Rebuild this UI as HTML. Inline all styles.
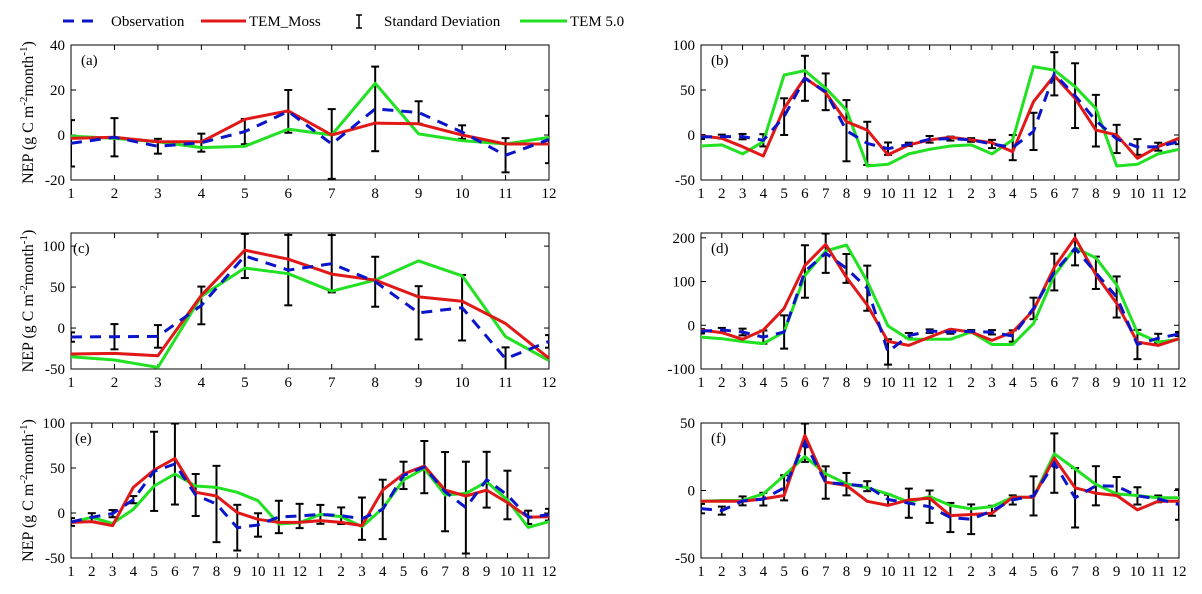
<!DOCTYPE html>
<html><head><meta charset="utf-8">
<style>
html,body{margin:0;padding:0;background:#fff;}
svg{display:block;font-family:"Liberation Serif",serif;}
</style></head>
<body>
<svg id="chart" width="1202" height="594" viewBox="0 0 1202 594" xmlns="http://www.w3.org/2000/svg">
  <g id="legend">
    <g>
      <line x1="63" y1="21" x2="101" y2="21" stroke="#0a14c8" stroke-width="3" stroke-dasharray="11,8"/>
      <text x="111" y="26" font-size="15">Observation</text>
    </g>
    <g>
      <line x1="201" y1="21" x2="246" y2="21" stroke="#e01818" stroke-width="3"/>
      <text x="249" y="26" font-size="15">TEM_Moss</text>
    </g>
    <g>
      <line x1="359" y1="15" x2="359" y2="28" stroke="#000" stroke-width="1.5"/>
      <line x1="356" y1="15" x2="362" y2="15" stroke="#000" stroke-width="1.5"/>
      <line x1="356" y1="28" x2="362" y2="28" stroke="#000" stroke-width="1.5"/>
      <text x="384" y="26" font-size="15">Standard Deviation</text>
    </g>
    <g>
      <line x1="520" y1="21" x2="567" y2="21" stroke="#22e022" stroke-width="3"/>
      <text x="570" y="26" font-size="15">TEM 5.0</text>
    </g>
  </g>
</svg>
<script>
// ---- data ----
const monthsA = [1,2,3,4,5,6,7,8,9,10,11,12];
const months24 = [1,2,3,4,5,6,7,8,9,10,11,12,1,2,3,4,5,6,7,8,9,10,11,12];

const obsA = [-3.7,-1,-5,-3.4,1.5,10.5,-4,11.6,10,1.3,-9,-2];
const sdA = [10.3,8.5,3.3,4,5.6,9.5,15.5,18.8,5,3,7.6,10.5];
const mossA = [-1.5,-1,-3,-3,7,10.7,0,5.3,5,0,-4,-4];
const tem5A = [-0.5,-1.5,-3,-5.6,-5,2.6,0,23,0.5,-2.5,-4,-1];

const obsB = [-2.2,-1.8,-1.8,-5.9,20.4,63,48,4.8,-9.3,-15.2,-10.4,-4.8,-4,-5.5,-10,-14,4,68,43.7,15.9,-4.4,-13.3,-13,-7.4];
const sdB = [2.2,2.2,3,6.8,20.4,25,20.4,34,24,6.9,1.9,3.7,2.2,2,4.6,14,20.7,24,36,28.7,15.7,8.7,4.4,2.8];
const mossB = [-1.1,-3.7,-13,-23.3,29.6,63.7,47,14.8,5.5,-22,-11,-5.5,-2.6,-5.5,-8.5,-18.5,37,66,40.7,5.5,0,-25.9,-13,-3.7];
const tem5B = [-12.2,-11,-21,-7.4,66.7,71.5,52,27.8,-34.4,-32.6,-21,-15.9,-12.2,-11,-21,-5.5,76,72,53.7,29.6,-34.4,-32.6,-21,-15.9];

const obsC = [-11,-10.6,-10.2,27.6,88,70.7,78.5,56.5,18.6,24.8,-37.4,-16.3];
const sdC = [5.7,15.4,13.8,23,27,43,35,30.5,32.5,40,13.8,7.7];
const mossC = [-31.7,-31,-33.8,40,95,84,65.8,58.5,38,32.7,5.5,-37];
const tem5C = [-35,-39,-48,38.7,73.3,66.3,45,58.5,82,63.8,-10.5,-39.8];

const obsD = [-13.8,-10.6,-15.4,-27,-15.4,123,164.8,130,84.8,-61,-23.6,-13.4,-15.4,-13.8,-16,-24.6,38.5,121.7,176,120,64.7,-44,-29.5,-20];
const sdD = [5,4.6,7.7,15,38,60,45,33,51.6,29,6,4,4,3,5,13,24.6,42,39,37,47,33.5,10,4.6];
const mossD = [-11,-16.7,-32,-11,38.5,137,185,109.5,46.2,-36.8,-46,-27,-9,-15.4,-34.6,-15.4,34.6,132.5,200,115.5,50,-38.5,-46,-30.8];
const tem5D = [-27,-30.8,-37,-42,-15.4,114,169.7,183.5,100,-1.4,-32,-32,-32,-15.4,-44,-44,3.8,114,177,154,92.4,-17,-38.5,-32];

const obsE = [-10,-4.8,-0.7,14.8,46.3,54.4,20,10,-16.3,-13.3,-4.4,-3.3,-1.5,-3,-6.3,4,41.8,51,23.7,6,37,20,-4.8,-1.9];
const sdE = [4.3,4.6,4,4,44,45,23.3,42.4,25.4,13,18,13.5,10.5,9.2,23.5,33,15.2,29,44,51,31,27,7.4,6.5];
const mossE = [-10.4,-9.6,-14,28.5,47.8,60.7,23,18.9,0.4,-7,-10.4,-10.4,-8.5,-10.4,-14,25.5,43.3,52.2,25.5,18.9,25.5,11.5,-4.8,-4];
const tem5E = [-10.4,-4.8,-11.5,4,30,43.3,30,28.5,23,13.7,-12.2,-10.7,-1.5,-4,-15.2,5.2,36.7,49.6,20,21.8,34.8,14.4,-16,-9.6];

const obsF = [-13.4,-14.9,-7.7,-6.4,2,35.4,5.9,4.7,3.2,-6.7,-9.4,-12,-20,-21.3,-15,-7,-4,20.3,-5.4,3.5,3.2,-4,-6.2,-10.4];
const sdF = [3.5,3,3.3,4.7,9.3,14.2,12,8.3,3.7,3.6,10.8,12,10.8,11,3.7,3.4,14.5,22,22,14.5,6.8,6.4,2.5,11.3];
const mossF = [-8,-8,-8,-6.2,-3.7,40.8,6.2,3.7,-8,-11,-7,-5.7,-18.6,-17.8,-16.8,-5,-5,24,2,-2,-3.7,-14.4,-8,-8];
const tem5F = [-8,-7.4,-7.4,-2.5,11,25.2,12.4,5,2,-2.5,-8.7,-4.5,-11,-13.6,-11.9,-5,-5,27.2,16,4.5,-2.5,-3.7,-5.4,-5.4];

const ticksA = [-20,0,20,40];
const ticksB = [-50,0,50,100];
const ticksC = [-50,0,50,100];
const ticksD = [-100,0,100,200];
const ticksE = [-50,0,50,100];
const ticksF = [-50,0,50];

// ---- drawing ----
const NS = "http://www.w3.org/2000/svg";
const svg = document.getElementById('chart');
function mk(tag, attrs, parent){
  const e = document.createElementNS(NS, tag);
  for (const k in attrs) e.setAttribute(k, attrs[k]);
  (parent||svg).appendChild(e);
  return e;
}

const panels = [
  {id:'a', L:71, R:549, T:45, B:180, ymin:-20, ymax:40, labels:monthsA, obs:obsA, sd:sdA, moss:mossA, tem5:tem5A, ticks:ticksA, ylab:true, lx:81},
  {id:'b', L:701, R:1179, T:45, B:180, ymin:-50, ymax:100, labels:months24, obs:obsB, sd:sdB, moss:mossB, tem5:tem5B, ticks:ticksB, ylab:false, lx:711},
  {id:'c', L:71, R:549, T:233, B:369, ymin:-50, ymax:116, labels:monthsA, obs:obsC, sd:sdC, moss:mossC, tem5:tem5C, ticks:ticksC, ylab:true, lx:73},
  {id:'d', L:701, R:1179, T:233, B:369, ymin:-100, ymax:211, labels:months24, obs:obsD, sd:sdD, moss:mossD, tem5:tem5D, ticks:ticksD, ylab:false, lx:711},
  {id:'e', L:71, R:549, T:423, B:558, ymin:-50, ymax:100, labels:months24, obs:obsE, sd:sdE, moss:mossE, tem5:tem5E, ticks:ticksE, ylab:true, lx:75},
  {id:'f', L:701, R:1179, T:423, B:558, ymin:-50, ymax:50, labels:months24, obs:obsF, sd:sdF, moss:mossF, tem5:tem5F, ticks:ticksF, ylab:false, lx:711}
];

panels.forEach(p => {
  const n = p.labels.length;
  const xs = i => p.L + i*(p.R-p.L)/(n-1);
  const ys = v => p.B - (v-p.ymin)/(p.ymax-p.ymin)*(p.B-p.T);

  const g = mk('g', {});
  
  

  const defs = mk('defs', {}, g);
  const cp = mk('clipPath', {id:'clip-'+p.id}, defs);
  mk('rect', {x:p.L, y:p.T, width:p.R-p.L, height:p.B-p.T}, cp);

  // axes box
  const box = mk('rect', {x:p.L, y:p.T, width:p.R-p.L, height:p.B-p.T, fill:'none', stroke:'#000', 'stroke-width':1}, g);
  
  

  // x ticks
  p.labels.forEach((lab, i) => {
    const x = xs(i);
    mk('line', {x1:x, y1:p.B, x2:x, y2:p.B-5, stroke:'#000', 'stroke-width':1}, g);
    mk('line', {x1:x, y1:p.T, x2:x, y2:p.T+5, stroke:'#000', 'stroke-width':1}, g);
    const t = mk('text', {x:x, y:p.B+18, 'font-size':15, 'text-anchor':'middle'}, g);
    t.textContent = lab;
    
    
  });
  // y ticks
  p.ticks.forEach(v => {
    const y = ys(v);
    mk('line', {x1:p.L, y1:y, x2:p.L+5, y2:y, stroke:'#000', 'stroke-width':1}, g);
    mk('line', {x1:p.R, y1:y, x2:p.R-5, y2:y, stroke:'#000', 'stroke-width':1}, g);
    const t = mk('text', {x:p.L-6, y:y+5, 'font-size':15, 'text-anchor':'end'}, g);
    t.textContent = v;
    
    
  });

  // panel letter
  const pl = mk('text', {x:p.lx, y:p.T+20, 'font-size':15}, g);
  pl.textContent = '(' + p.id + ')';
  
  

  // y axis title
  if (p.ylab) {
    const cy = (p.T+p.B)/2;
    const yt = mk('text', {x:0, y:0, 'font-size':16, 'text-anchor':'middle', transform:'translate(33,'+cy+') rotate(-90)'}, g);
    
    
    const a = mk('tspan', {}, yt); a.textContent = 'NEP (g C m';
    const b = mk('tspan', {dy:-6, 'font-size':11}, yt); b.textContent = '-2';
    const c = mk('tspan', {dy:6}, yt); c.textContent = 'month';
    const d = mk('tspan', {dy:-6, 'font-size':11}, yt); d.textContent = '-1';
    const e = mk('tspan', {dy:6}, yt); e.textContent = ')';
  }

  const dg = mk('g', {'clip-path':'url(#clip-'+p.id+')'}, g);

  // error bars
  p.obs.forEach((v, i) => {
    const x = xs(i), y1 = ys(v+p.sd[i]), y2 = ys(v-p.sd[i]);
    const eb = mk('g', {stroke:'#000', 'stroke-width':2}, dg);
    
    
    mk('line', {x1:x, y1:y1, x2:x, y2:y2}, eb);
    mk('line', {x1:x-4, y1:y1, x2:x+4, y2:y1}, eb);
    mk('line', {x1:x-4, y1:y2, x2:x+4, y2:y2}, eb);
  });

  const pts = arr => arr.map((v,i) => xs(i).toFixed(1)+','+ys(v).toFixed(1)).join(' ');

  const gl = mk('polyline', {points:pts(p.tem5), fill:'none', stroke:'#22e022', 'stroke-width':3, 'stroke-linejoin':'round'}, dg);
  
  

  const rl = mk('polyline', {points:pts(p.moss), fill:'none', stroke:'#e01818', 'stroke-width':3, 'stroke-linejoin':'round'}, dg);
  
  

  const bl = mk('polyline', {points:pts(p.obs), fill:'none', stroke:'#0a14c8', 'stroke-width':3, 'stroke-dasharray':'11,8'}, dg);
  
  
});
</script>
</body></html>
